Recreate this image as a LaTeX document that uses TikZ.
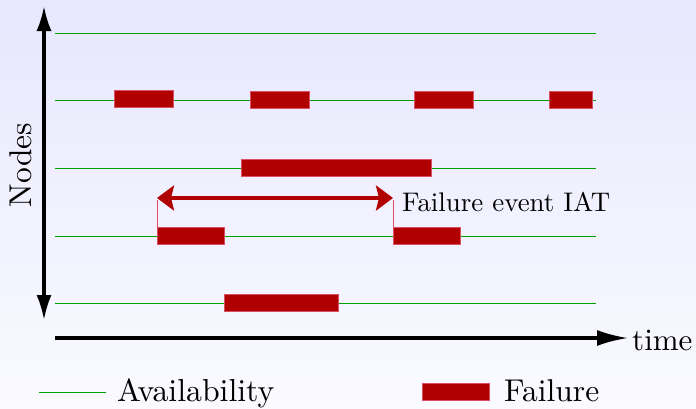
\documentclass[tikz,border=0pt]{standalone}
\usetikzlibrary{arrows.meta}
\definecolor{bgtop}{RGB}{231,231,254}
\definecolor{bgbot}{RGB}{250,250,255}
\definecolor{avail}{RGB}{0,160,0}
\definecolor{failfill}{RGB}{176,0,0}
\definecolor{failedge}{RGB}{215,80,100}
\newcommand{\bigtext}[2]{\scalebox{#1}{#2}}
\begin{document}
\begin{tikzpicture}[x=1pt,y=-1pt,
  availline/.style={draw=avail, line width=1pt},
  failbox/.style={draw=failedge, fill=failfill, line width=0.9pt, inner sep=0pt,
    minimum height=17pt, anchor=west},
  axis/.style={line width=3.1pt, black},
  iat/.style={line width=4.2pt, failfill,
    arrows={Stealth[length=17pt, width=25pt, inset=3pt]-Stealth[length=17pt, width=25pt, inset=3pt]}},
  guide/.style={draw=failedge, line width=1pt},
  lbl/.style={inner sep=0pt, font=\fontsize{10}{12}\selectfont}]
  % background with a soft vertical gradient
  \shade[top color=bgtop, bottom color=bgbot] (0,0) rectangle (696,408);
  \useasboundingbox (0,0) rectangle (696,408);

  % availability timelines of the nodes
  \foreach \r/\y in {1/33, 2/100, 3/168, 4/236, 5/303} {
    \coordinate (s\r) at (55,\y);
    \coordinate (e\r) at (596,\y);
    \draw[availline] (s\r) -- (e\r);
  }

  % failure periods
  \node[failbox, minimum width=59pt] (f21) at (114,99) {};
  \node[failbox, minimum width=59pt] (f22) at (250,100) {};
  \node[failbox, minimum width=59pt] (f23) at (414,100) {};
  \node[failbox, minimum width=43pt] (f24) at (549,100) {};
  \node[failbox, minimum width=190pt] (f31) at (241,168) {};
  \node[failbox, minimum width=67pt] (f41) at (157,236) {};
  \node[failbox, minimum width=67pt] (f42) at (393,236) {};
  \node[failbox, minimum width=114pt] (f51) at (224,303) {};

  % inter-arrival time between two failure events
  \coordinate (iatL) at (157,200);
  \coordinate (iatR) at (393,200);
  \draw[guide] (f41.north west) -- (iatL);
  \draw[guide] (f42.north west) -- (iatR);
  \draw[iat] ([yshift=2pt]iatL) -- ([yshift=2pt]iatR);
  \node[lbl, anchor=base west] (iatlabel) at (402,211) {\bigtext{2.69}{Failure event IAT}};

  % axes
  \coordinate (ytop) at (44,6);
  \coordinate (ybot) at (44,320);
  \draw[axis, arrows={Latex[length=25pt, width=15pt]-Latex[length=25pt, width=15pt]}] (ytop) -- (ybot);
  \node[lbl, rotate=90] (ylabel) at (21,165) {\bigtext{3.15}{Nodes}};
  \coordinate (xstart) at (55,338);
  \coordinate (xend) at (628,338);
  \draw[axis, arrows={-Latex[length=31pt, width=16pt]}] (xstart) -- (xend);
  \node[lbl, anchor=base west] (xlabel) at (632,350) {\bigtext{3.1}{time}};

  % legend
  \coordinate (lgA) at (39,392);
  \coordinate (lgB) at (106,392);
  \draw[availline] (lgA) -- (lgB);
  \node[lbl, anchor=base west] (lgAtext) at (117,401) {\bigtext{3.18}{Availability}};
  \node[failbox, minimum width=67pt] (lgbox) at (422,392) {};
  \node[lbl, anchor=base west] (lgFtext) at (504,401) {\bigtext{3.15}{Failure}};
\end{tikzpicture}
\end{document}
